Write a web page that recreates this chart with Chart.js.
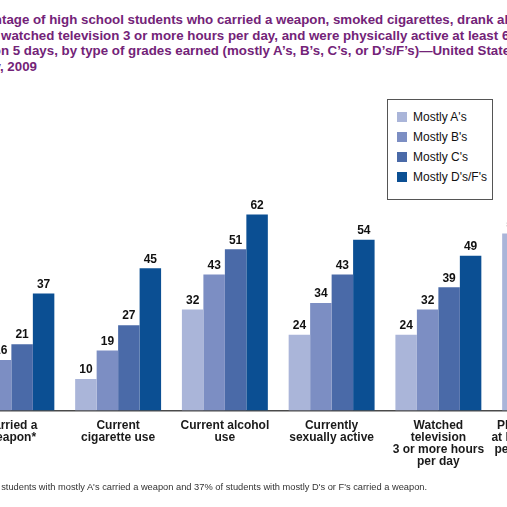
<!DOCTYPE html>
<html>
<head>
<meta charset="utf-8">
<script src="https://cdn.jsdelivr.net/npm/chart.js@4"></script>
<style>
  html, body { margin: 0; padding: 0; background: #fff; }
  body { width: 507px; height: 507px; position: relative; overflow: hidden; font-family: "Liberation Sans", Arial, sans-serif; }
  .title { position: absolute; top: 12px; left: 0; color: #732378; font-weight: bold; font-size: 13.3px; line-height: 15.7px; }
  .title div { position: relative; white-space: nowrap; }
  #chart-wrap { position: absolute; left: -42.4px; top: 0; width: 640.5px; height: 507px; }
  #legend { position: absolute; left: 387px; top: 99px; width: 104px; height: 92px; border: 1px solid #555; background: #fff; padding-top: 7px; box-sizing: content-box; }
  #legend .item { height: 20px; display: flex; align-items: center; font-size: 12px; color: #111; }
  #legend .sw { width: 10px; height: 10px; margin-left: 9px; margin-right: 6px; }
  .nota { position: absolute; left: -34px; top: 482px; font-size: 9.3px; color: #333; white-space: nowrap; }
</style>
</head>
<body>
<div class="title">
  <div style="left:-42.4px">Percentage of high school students who carried a weapon, smoked cigarettes, drank alcohol, were currently sexually</div>
  <div style="left:-44px">active, watched television 3 or more hours per day, and were physically active at least 60 minutes</div>
  <div style="left:-58.2px">per day on 5 days, by type of grades earned (mostly A’s, B’s, C’s, or D’s/F’s)—United States, Youth Risk Behavior</div>
  <div style="left:-43.4px">Survey, 2009</div>
</div>
<div id="chart-wrap"><canvas id="grafico"></canvas></div>
<div id="legend"></div>
<div class="nota">*12% of students with mostly A's carried a weapon and 37% of students with mostly D's or F's carried a weapon.</div>
<script>
// Categorias e valores (%)
const categorias = [
    ['Carried a', 'weapon*'],
    ['Current', 'cigarette use'],
    ['Current alcohol', 'use'],
    ['Currently', 'sexually active'],
    ['Watched', 'television', '3 or more hours', 'per day'],
    ['Physically active', 'at least 60 minutes', 'per day on 5 days']
];
const mostlyA = [12, 10, 32, 24, 24, 56];
const mostlyB = [16, 19, 43, 34, 32, 52];
const mostlyC = [21, 27, 51, 43, 39, 47];
const mostlyDF = [37, 45, 62, 54, 49, 41];

const series = ["Mostly A's", "Mostly B's", "Mostly C's", "Mostly D's/F's"];
const cores = ['#aab5d9', '#7c8ec3', '#4a6aa8', '#0b4f93'];

const fonte = '"Liberation Sans", Arial, sans-serif';

// Rótulos de valor acima das barras
const rotulosValor = {
    id: 'rotulosValor',
    afterDatasetsDraw(chart) {
        const ctx = chart.ctx;
        ctx.save();
        ctx.font = 'bold 12px ' + fonte;
        ctx.fillStyle = '#111';
        ctx.textAlign = 'center';
        ctx.textBaseline = 'bottom';
        chart.data.datasets.forEach((ds, i) => {
            chart.getDatasetMeta(i).data.forEach((bar, j) => {
                ctx.fillText(ds.data[j], bar.x, bar.y - 3);
            });
        });
        ctx.restore();
    }
};

const dados = [mostlyA, mostlyB, mostlyC, mostlyDF];

const grafico = new Chart(document.getElementById('grafico').getContext('2d'), {
    type: 'bar',
    data: {
        labels: categorias,
        datasets: series.map((nome, i) => ({
            label: nome,
            data: dados[i],
            backgroundColor: cores[i],
            borderWidth: 0,
            categoryPercentage: 0.805,
            barPercentage: 1.0
        }))
    },
    options: {
        responsive: true,
        maintainAspectRatio: false,
        animation: false,
        layout: { padding: { top: 189.3, left: 0, right: 0, bottom: 0 } },
        plugins: {
            legend: { display: false },
            title: { display: false },
            tooltip: { enabled: false }
        },
        scales: {
            y: { display: false, min: 0, max: 70 },
            x: {
                grid: { display: false, drawTicks: false },
                border: { display: true, color: '#4a4a4a', width: 1.5 },
                ticks: {
                    autoSkip: false,
                    maxRotation: 0,
                    minRotation: 0,
                    padding: 9.5,
                    color: '#1a1a1a',
                    font: { family: fonte, size: 12, weight: 'bold', lineHeight: 1.0 }
                },
                afterFit(scale) {
                    scale.height = 96.5;
                    // sem recuo lateral: os rótulos podem sair da área
                    scale.paddingLeft = 0;
                    scale.paddingRight = 0;
                }
            }
        }
    },
    plugins: [rotulosValor]
});

// Legenda em HTML
const legenda = document.getElementById('legend');
grafico.data.datasets.forEach((ds) => {
    const item = document.createElement('div');
    item.className = 'item';
    item.innerHTML = `<span class="sw" style="background:${ds.backgroundColor}"></span><span>${ds.label}</span>`;
    legenda.appendChild(item);
});
</script>
</body>
</html>
